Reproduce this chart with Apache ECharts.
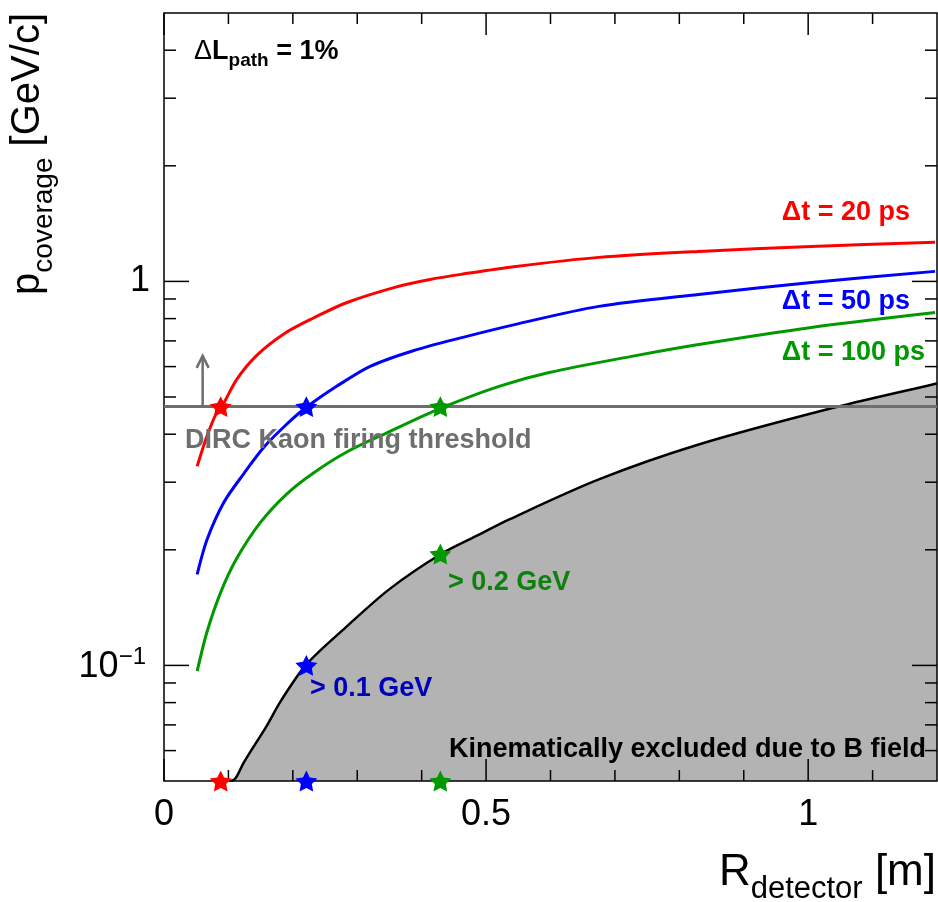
<!DOCTYPE html>
<html>
<head>
<meta charset="utf-8">
<script src="https://cdn.jsdelivr.net/npm/echarts@6/dist/echarts.min.js"></script>
<style>
  html, body { margin: 0; padding: 0; background: #fff; }
  #chart { width: 938px; height: 902px; }
</style>
</head>
<body>
<div id="chart"></div>
<script>
// R_detector [m] and p_coverage [GeV/c]
const dt20R = [0.0515, 0.0666, 0.082, 0.0898, 0.113, 0.144, 0.186, 0.232, 0.283, 0.361, 0.413, 0.464, 0.546, 0.675, 0.830, 1.005, 1.197];
const dt20P = [0.330, 0.395, 0.456, 0.472, 0.556, 0.642, 0.730, 0.803, 0.880, 0.968, 1.012, 1.045, 1.094, 1.155, 1.197, 1.233, 1.264];

const dt50R = [0.0515, 0.067, 0.093, 0.124, 0.155, 0.190, 0.221, 0.268, 0.320, 0.387, 0.464, 0.546, 0.675, 0.830, 1.005, 1.197];
const dt50P = [0.1726, 0.213, 0.266, 0.316, 0.370, 0.424, 0.470, 0.533, 0.601, 0.660, 0.715, 0.773, 0.861, 0.925, 0.994, 1.062];

const dt100R = [0.0515, 0.0666, 0.088, 0.113, 0.150, 0.190, 0.232, 0.283, 0.351, 0.429, 0.520, 0.598, 0.726, 0.830, 1.005, 1.197];
const dt100P = [0.0966, 0.122, 0.155, 0.190, 0.236, 0.279, 0.317, 0.359, 0.407, 0.467, 0.533, 0.579, 0.638, 0.685, 0.759, 0.830];

const bFieldR = [0.102, 0.108, 0.113, 0.124, 0.159, 0.181, 0.221, 0.283, 0.350, 0.430, 0.489, 0.536, 0.675, 0.830, 1.042, 1.193, 1.2];
const bFieldP = [0.050, 0.0503, 0.0514, 0.0559, 0.0694, 0.0806, 0.1006, 0.126, 0.158, 0.195, 0.219, 0.240, 0.305, 0.376, 0.470, 0.539, 0.542];

const kaonThreshold = 0.472;
const thresholdR = [0, 1.2];
const arrowR = 0.06;
const arrowTop = 0.64;

const starsRed = [[0.088, 0.472], [0.088, 0.05]];
const starsBlue = [[0.221, 0.472], [0.221, 0.1], [0.221, 0.05]];
const starsGreen = [[0.429, 0.472], [0.429, 0.195], [0.429, 0.05]];

const xMajorTicks = [0, 0.5, 1];
const xMinorTicks = [0.1, 0.2, 0.3, 0.4, 0.6, 0.7, 0.8, 0.9, 1.1];
const yMajorTicks = [0.1, 1];
const yMinorTicks = [0.06, 0.07, 0.08, 0.09, 0.2, 0.3, 0.4, 0.5, 0.6, 0.7, 0.8, 0.9, 2, 3, 4];

const X_MIN = 0, X_MAX = 1.2, Y_MIN = 0.05, Y_MAX = 5;
const FONT = '"Liberation Sans", Arial, Helvetica, sans-serif';
const GRAY = '#6e6e6e';
const STAR = 'path://M0,-10 L2.94,-4.05 L9.51,-3.09 L4.76,1.55 L5.88,8.09 L0,5 L-5.88,8.09 L-4.76,1.55 L-9.51,-3.09 L-2.94,-4.05 Z';

const zip = (xs, ys) => xs.map((x, i) => [x, ys[i]]);

function curve(name, xs, ys, color) {
  return {
    name, type: 'line', data: zip(xs, ys), z: 5,
    showSymbol: false, smooth: 0.3,
    lineStyle: { color, width: 3, join: 'round' }, silent: true
  };
}

function stars(name, data, color) {
  return {
    name, type: 'scatter', data, z: 8, clip: false,
    symbol: STAR, symbolSize: 22, symbolKeepAspect: true,
    itemStyle: { color, opacity: 1 }, silent: true
  };
}

function yTick(params, api) {
  const v = api.value(1), len = api.value(2);
  const pl = api.coord([X_MIN, v]), pr = api.coord([X_MAX, v]);
  const st = { stroke: '#000', lineWidth: 1.5 };
  return { type: 'group', children: [
    { type: 'line', shape: { x1: pl[0], y1: pl[1], x2: pl[0] + len, y2: pl[1] }, style: st },
    { type: 'line', shape: { x1: pr[0], y1: pr[1], x2: pr[0] - len, y2: pr[1] }, style: st }
  ] };
}

function xTick(params, api) {
  const v = api.value(0), len = api.value(2);
  const pb = api.coord([v, Y_MIN]), pt = api.coord([v, Y_MAX]);
  const st = { stroke: '#000', lineWidth: 1.5 };
  return { type: 'group', children: [
    { type: 'line', shape: { x1: pb[0], y1: pb[1], x2: pb[0], y2: pb[1] - len }, style: st },
    { type: 'line', shape: { x1: pt[0], y1: pt[1], x2: pt[0], y2: pt[1] + len }, style: st }
  ] };
}

function arrow(params, api) {
  const b = api.coord([api.value(0), api.value(1)]);
  const t = api.coord([api.value(0), api.value(2)]);
  const st = { stroke: GRAY, lineWidth: 2.5, fill: null };
  return { type: 'group', children: [
    { type: 'line', shape: { x1: b[0], y1: b[1], x2: t[0], y2: t[1] }, style: st },
    { type: 'polyline', shape: { points: [[t[0] - 6, t[1] + 12], [t[0], t[1]], [t[0] + 6, t[1] + 12]] }, style: st }
  ] };
}

// text placed by baseline: zrender puts the baseline at about 0.8465 * size below a top-aligned box
function label(text, x, baseline, size, color, align) {
  return {
    type: 'text', x, y: baseline - 0.8465 * size, z: 20,
    style: {
      text, fill: color, textAlign: align || 'left', textVerticalAlign: 'top',
      font: 'bold ' + size + 'px ' + FONT
    }
  };
}

const chart = echarts.init(document.getElementById('chart'));
chart.setOption({
  animation: false,
  grid: { left: 164, top: 13, right: 1, bottom: 121, show: true, borderColor: '#000', borderWidth: 1.5, backgroundColor: 'transparent', z: 3 },
  xAxis: {
    type: 'value', min: X_MIN, max: X_MAX, interval: 0.5,
    axisLine: { show: false }, axisTick: { show: false }, splitLine: { show: false },
    axisLabel: { show: true, margin: 16, showMaxLabel: false, color: '#000', fontFamily: FONT, fontSize: 36 }
  },
  yAxis: {
    type: 'log', logBase: 10, min: Y_MIN, max: Y_MAX,
    axisLine: { show: false }, axisTick: { show: false }, splitLine: { show: false },
    axisLabel: {
      margin: 14, showMinLabel: false, showMaxLabel: false,
      formatter: v => Math.abs(v - 1) < 1e-6 ? '{b|1}' : (Math.abs(v - 0.1) < 1e-7 ? '{m|10}{s|\u22121}' : ''),
      rich: {
        b: { fontFamily: FONT, fontSize: 36, color: '#000' },
        m: { fontFamily: FONT, fontSize: 36, color: '#000', verticalAlign: 'top', padding: [4, 0, 0, 0] },
        s: { fontFamily: FONT, fontSize: 24, color: '#000', verticalAlign: 'top', padding: [0, 4, 0, 0] }
      }
    }
  },
  series: [
    {
      name: 'Kinematically excluded due to B field', type: 'line', data: zip(bFieldR, bFieldP), z: 1,
      showSymbol: false, smooth: 0.3,
      lineStyle: { color: '#000', width: 2.5, join: 'round' },
      areaStyle: { color: '#b3b3b3', opacity: 1, origin: 'start' }, silent: true
    },
    {
      name: 'DIRC Kaon firing threshold', type: 'line', data: thresholdR.map(r => [r, kaonThreshold]), z: 4,
      showSymbol: false, lineStyle: { color: GRAY, width: 3 }, silent: true
    },
    {
      name: 'arrow', type: 'custom', renderItem: arrow, z: 4, silent: true,
      data: [[arrowR, kaonThreshold, arrowTop]]
    },
    curve('\u0394t = 20 ps', dt20R, dt20P, '#ff0000'),
    curve('\u0394t = 50 ps', dt50R, dt50P, '#0000ff'),
    curve('\u0394t = 100 ps', dt100R, dt100P, '#009900'),
    stars('stars 20 ps', starsRed, '#ff0000'),
    stars('stars 50 ps', starsBlue, '#0000ff'),
    stars('stars 100 ps', starsGreen, '#009900'),
    {
      name: 'y ticks', type: 'custom', renderItem: yTick, z: 6, silent: true,
      data: yMajorTicks.map(v => [X_MIN, v, 25]).concat(yMinorTicks.map(v => [X_MIN, v, 12]))
    },
    {
      name: 'x ticks', type: 'custom', renderItem: xTick, z: 6, silent: true,
      data: xMajorTicks.map(v => [v, Y_MIN, 22]).concat(xMinorTicks.map(v => [v, Y_MIN, 11]))
    }
  ],
  graphic: [
    {
      type: 'text', x: 194, y: 61 - 0.8465 * 27, z: 20,
      style: {
        text: '{d|\u0394}{b|L}{s|path}{b| = 1%}', textAlign: 'left', textVerticalAlign: 'top',
        rich: {
          d: { fontFamily: FONT, fontSize: 27, color: '#000', verticalAlign: 'top' },
          b: { fontFamily: FONT, fontSize: 27, fontWeight: 'bold', color: '#000', verticalAlign: 'top' },
          s: { fontFamily: FONT, fontSize: 19, fontWeight: 'bold', color: '#000', verticalAlign: 'top', padding: [13, 0, 0, 0] }
        }
      }
    },
    label('\u0394t = 20 ps', 910, 222, 27, '#ff0000', 'right'),
    label('\u0394t = 50 ps', 910, 311, 27, '#0000ff', 'right'),
    label('\u0394t = 100 ps', 925, 362, 27, '#009900', 'right'),
    label('DIRC Kaon firing threshold', 185, 450, 27, GRAY),
    label('> 0.2 GeV', 448, 592, 27, '#0d800d'),
    label('> 0.1 GeV', 310, 698, 27, '#0000b8'),
    label('Kinematically excluded due to B field', 926, 759, 27, '#000', 'right'),
    {
      type: 'text', x: 936, y: 888 - 0.8465 * 44, z: 20,
      style: {
        text: '{m|R}{s|detector}{m| [m]}', textAlign: 'right', textVerticalAlign: 'top',
        rich: {
          m: { fontFamily: FONT, fontSize: 44, color: '#000', verticalAlign: 'top' },
          s: { fontFamily: FONT, fontSize: 31, color: '#000', verticalAlign: 'top', padding: [23, 0, 0, 0] }
        }
      }
    },
    {
      type: 'text', x: 8, y: 13, rotation: Math.PI / 2, z: 20,
      style: {
        text: '{m|p}{s|coverage}{m| [GeV/c]}', textAlign: 'right', textVerticalAlign: 'top',
        rich: {
          m: { fontFamily: FONT, fontSize: 40, color: '#000', verticalAlign: 'top' },
          s: { fontFamily: FONT, fontSize: 28, color: '#000', verticalAlign: 'top', padding: [22, 0, 0, 0] }
        }
      }
    }
  ]
});
</script>
</body>
</html>
